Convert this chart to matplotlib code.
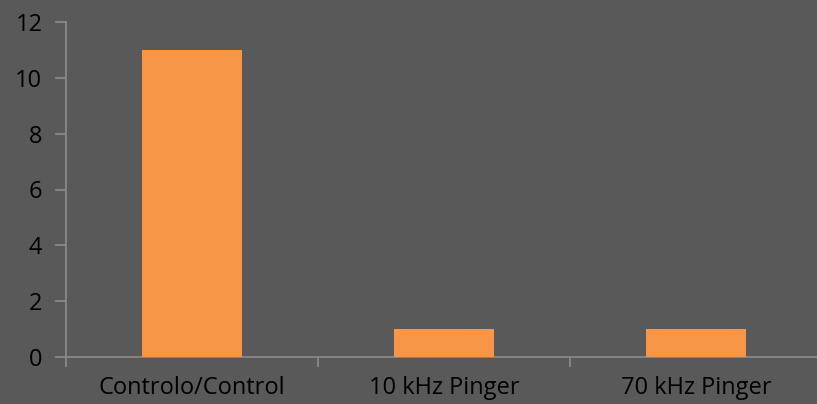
from matplotlib import pyplot as plt
import numpy as np

categories = ["Controlo/Control", "10 kHz Pinger", "70 kHz Pinger"]
counts = [11, 1, 1]
y_ticks = [0, 2, 4, 6, 8, 10, 12]

bg = "#595959"
axis_col = "#8c8c8c"
bar_col = "#F79646"

plt.rcParams['font.family'] = ['Open Sans', 'DejaVu Sans']

fig = plt.figure(figsize=(8.17, 4.04), dpi=100, facecolor=bg)
ax = fig.add_axes([66 / 817, 47 / 404, 1 - 66 / 817, 335 / 404], facecolor=bg)

x = np.arange(len(categories))
ax.bar(x, counts, width=0.4, color=bar_col, zorder=3)

ax.set_ylim(0, 12)
ax.set_yticks(y_ticks)
ax.set_xlim(-0.5, 2.48)

# category labels sit between the boundary ticks
ax.set_xticks(x)
ax.set_xticklabels(categories)
ax.tick_params(axis='x', length=0, pad=14, labelsize=17, labelcolor='black')
ax.set_xticks([-0.5, 0.5, 1.5], minor=True)
ax.tick_params(axis='x', which='minor', length=7, width=1.2, color=axis_col)
ax.tick_params(axis='y', length=8, width=1.2, color=axis_col, labelsize=17,
               labelcolor='black', pad=9)

for side in ['top', 'right']:
    ax.spines[side].set_visible(False)
for side in ['left', 'bottom']:
    ax.spines[side].set_color(axis_col)
    ax.spines[side].set_linewidth(1.2)

fig.savefig("out.png", dpi=100, facecolor=bg)
